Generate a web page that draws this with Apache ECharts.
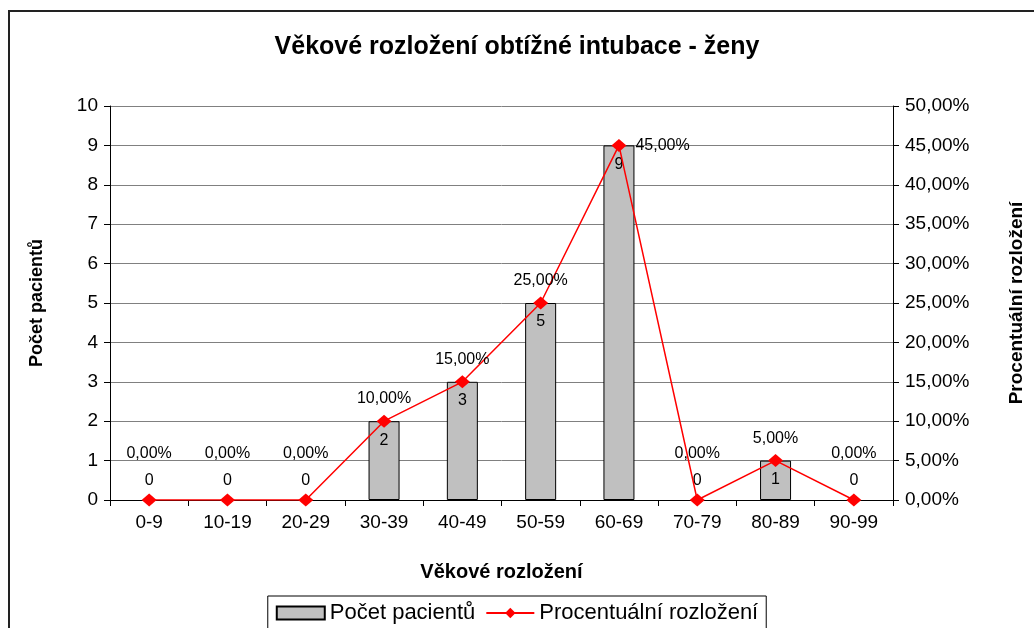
<!DOCTYPE html>
<html lang="cs">
<head>
    <meta charset="UTF-8">
    <title>Věkové rozložení obtížné intubace - ženy</title>
    <script src="https://cdn.jsdelivr.net/npm/echarts@6/dist/echarts.min.js"></script>
    <style>
        html, body { margin: 0; padding: 0; background: #fff; }
        #frame {
            position: absolute; left: 8px; top: 10px; width: 1100px; height: 700px;
            border-left: 2px solid #222; border-top: 2px solid #222;
        }
        #graph { position: absolute; left: 0; top: 0; width: 1034px; height: 628px; }
    </style>
</head>
<body>
<div id="frame"></div>
<div id="graph"></div>
<script>
    var ageGroups = ['0-9', '10-19', '20-29', '30-39', '40-49', '50-59', '60-69', '70-79', '80-89', '90-99'];
    var patientCounts = [0, 0, 0, 2, 3, 5, 9, 0, 1, 0];
    var percentShares = [0, 0, 0, 10, 15, 25, 45, 0, 5, 0];

    var font = '"Liberation Sans", Arial, sans-serif';

    function pct(v) {
        return v.toFixed(2).replace('.', ',') + '%';
    }

    var myChart = echarts.init(document.getElementById('graph'));

    // bar labels: zero counts sit above the baseline, others inside the bar top
    var barData = [];
    for (var i = 0; i < patientCounts.length; i++) {
        var v = patientCounts[i];
        barData.push({
            value: v,
            itemStyle: v === 0 ? { borderWidth: 0 } : {},
            label: { position: v === 0 ? 'top' : 'insideTop', distance: 11 }
        });
    }
    // percent labels: zeros pushed up to clear the count label, max to the right
    var maxPct = Math.max.apply(null, percentShares);
    var lineData = [];
    for (var j = 0; j < percentShares.length; j++) {
        var p = percentShares[j];
        var lab = { position: 'top', distance: p === 0 ? 32 : 8 };
        if (p === maxPct) lab = { position: 'right', distance: 9 };
        lineData.push({ value: p, label: lab });
    }

    var option = {
        animation: false,
        textStyle: { fontFamily: font },
        title: {
            text: 'Věkové rozložení obtížné intubace - ženy',
            left: 'center',
            top: 30,
            textStyle: { fontFamily: font, fontSize: 25, fontWeight: 'bold', color: '#000' }
        },
        legend: {
            top: 596,
            left: 'center',
            padding: [6, 8, 20, 8],
            borderColor: '#000',
            borderWidth: 1,
            itemWidth: 48,
            itemHeight: 13,
            itemGap: 10,
            textStyle: { fontFamily: font, fontSize: 22, color: '#000' },
            data: [
                { name: 'Počet pacientů', icon: 'rect' },
                { name: 'Procentuální rozložení' }
            ]
        },
        grid: { left: 110, right: 139, top: 106, bottom: 128 },
        xAxis: {
            type: 'category',
            data: ageGroups,
            name: 'Věkové rozložení',
            nameLocation: 'middle',
            nameGap: 62,
            nameTextStyle: { fontFamily: font, fontSize: 20, fontWeight: 'bold', color: '#000' },
            axisLine: { lineStyle: { color: '#000', width: 1 } },
            axisTick: { show: true, length: 6, lineStyle: { color: '#000' } },
            axisLabel: { fontFamily: font, fontSize: 19, color: '#000', margin: 13 }
        },
        yAxis: [
            {
                type: 'value',
                min: 0,
                max: 10,
                interval: 1,
                name: 'Počet pacientů',
                nameLocation: 'middle',
                nameRotate: 90,
                nameGap: 64,
                nameTextStyle: { fontFamily: font, fontSize: 18, fontWeight: 'bold', color: '#000' },
                axisLine: { show: true, lineStyle: { color: '#000' } },
                axisTick: { show: true, length: 6, lineStyle: { color: '#000' } },
                axisLabel: { fontFamily: font, fontSize: 19, color: '#000', margin: 12 },
                splitLine: { show: true, lineStyle: { color: '#808080', width: 1 } }
            },
            {
                type: 'value',
                min: 0,
                max: 50,
                interval: 5,
                position: 'right',
                name: 'Procentuální rozložení',
                nameLocation: 'middle',
                nameRotate: 90,
                nameGap: 114,
                nameTextStyle: { fontFamily: font, fontSize: 19, fontWeight: 'bold', color: '#000' },
                axisLine: { show: true, lineStyle: { color: '#000' } },
                axisTick: { show: true, length: 6, lineStyle: { color: '#000' } },
                axisLabel: { fontFamily: font, fontSize: 19, color: '#000', margin: 12, formatter: pct },
                splitLine: { show: false }
            }
        ],
        series: [
            {
                name: 'Počet pacientů',
                type: 'bar',
                barWidth: 31,
                data: barData,
                itemStyle: { color: '#c0c0c0', borderColor: '#000', borderWidth: 1 },
                label: { show: true, fontFamily: font, fontSize: 16, color: '#000' }
            },
            {
                name: 'Procentuální rozložení',
                type: 'line',
                yAxisIndex: 1,
                data: lineData,
                symbol: 'diamond',
                symbolSize: [15, 13],
                lineStyle: { color: '#ff0000', width: 1.5 },
                itemStyle: { color: '#ff0000' },
                label: { show: true, fontFamily: font, fontSize: 16, color: '#000', formatter: function (p) { return pct(p.value); } },
                z: 3
            }
        ]
    };

    myChart.setOption(option);
</script>
</body>
</html>
